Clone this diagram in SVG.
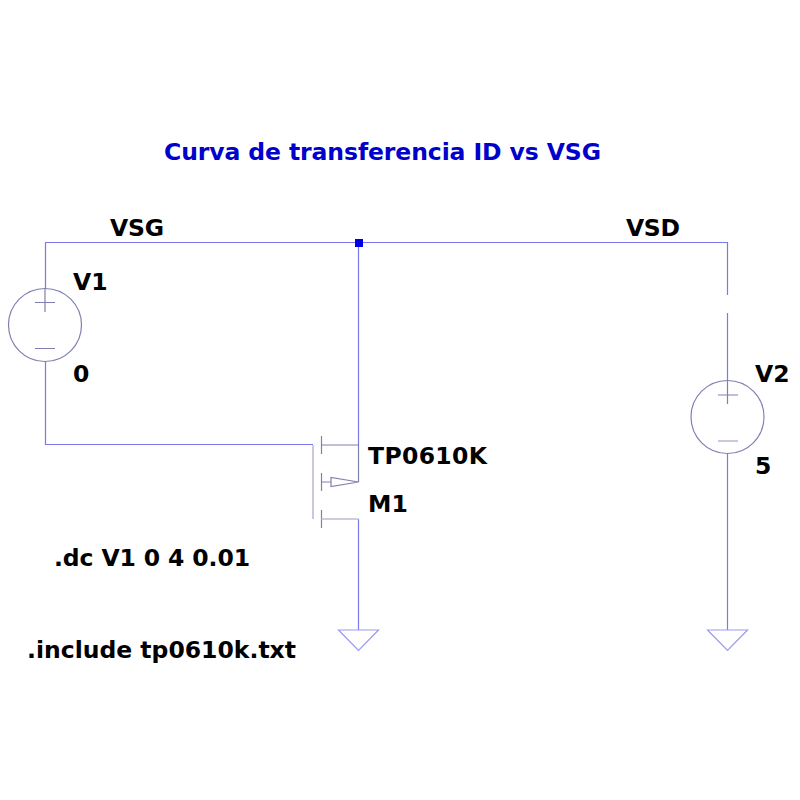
<svg xmlns="http://www.w3.org/2000/svg" width="800" height="800" viewBox="0 0 800 800">
<style>
.w{stroke:#7a7ae6;stroke-width:1.2;fill:none}
.s{stroke:#8080b0;stroke-width:1.2;fill:none}
.b{stroke:#bcbcd8;stroke-width:1.6;fill:none}
.g{stroke:#9a9af0;stroke-width:1.2;fill:none}
text{font-family:"DejaVu Sans",Verdana,sans-serif;font-weight:bold;font-size:23.5px;fill:#000}
.t{fill:#0000cd}
</style>
<rect width="800" height="800" fill="#fff"/>
<g id="connectors">
<path class="w" d="M45.5 361V444.5H313"/>
<path class="w" d="M45.5 289V242.5H727.5V295"/>
<path class="w" d="M727.5 313V381"/>
<path class="w" d="M727.5 453V630"/>
<path class="w" d="M358.5 242.5V445"/>
<path class="w" d="M358.5 519V630"/>
</g>
<g id="junction"><rect x="355" y="239" width="8" height="8" fill="#0000e6"/></g>
<g id="V1">
<circle class="s" cx="45" cy="325" r="36.5"/>
<path class="s" d="M45 289V312M35 302.500H55M35 348.500H55"/>
<text x="73" y="290">V1</text>
<text x="73" y="382">0</text>
</g>
<g id="V2">
<circle class="s" cx="727.500" cy="417" r="36.5"/>
<path class="s" d="M727.500 381V404M718 395H738"/>
<path class="b" d="M718 441H738"/>
<text x="755" y="382">V2</text>
<text x="755" y="474">5</text>
</g>
<g id="M1">
<path class="b" d="M313 445V519"/>
<path class="s" d="M321.500 436V454M321.500 473V491M321.500 510V528M321.500 445H358.500V482M321.500 482H331"/>
<path class="s" d="M331 477.500V486.500L358.500 482Z"/>
<path class="b" d="M321.500 519H358.500"/>
<text x="368" y="464" textLength="119">TP0610K</text>
<text x="368" y="512">M1</text>
</g>
<g id="gnd1"><path class="g" d="M338.500 630H378.500L358.500 650.500Z"/></g>
<g id="gnd2"><path class="g" d="M707.500 630H747.500L727.500 650.500Z"/></g>
<g id="labels">
<text class="t" x="164" y="160" textLength="437">Curva de transferencia ID vs VSG</text>
<text x="110" y="236" textLength="54">VSG</text>
<text x="626" y="236" textLength="54">VSD</text>
<text x="54" y="566" textLength="196">.dc V1 0 4 0.01</text>
<text x="27" y="658" textLength="269">.include tp0610k.txt</text>
</g>
</svg>
